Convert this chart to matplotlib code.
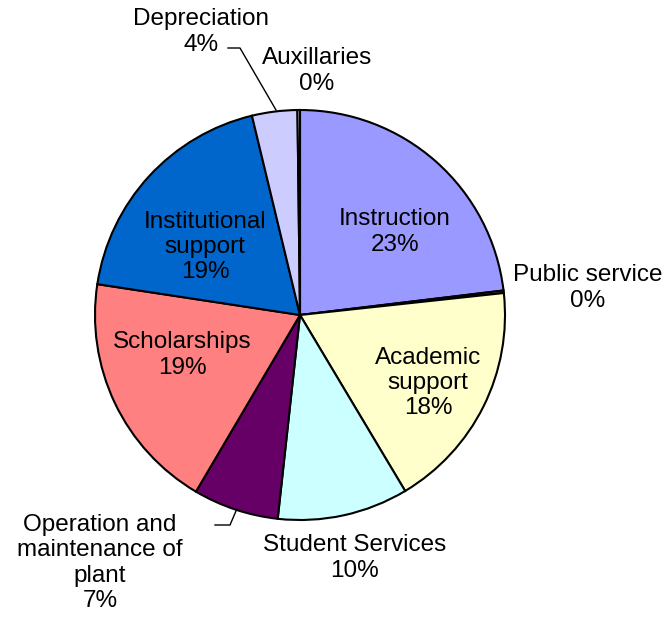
import matplotlib.pyplot as plt

# expense categories, clockwise from 12 o'clock
categories = ["Instruction", "Public service", "Academic\nsupport", "Student Services",
              "Operation and\nmaintenance of\nplant", "Scholarships",
              "Institutional\nsupport", "Depreciation", "Auxillaries"]
shares = [23.3, 0.2, 18.3, 10.4, 6.8, 19.1, 19.0, 3.6, 0.2]
colors = ["#9999FF", "#993366", "#FFFFCC", "#CCFFFF", "#660066",
          "#FF8080", "#0066CC", "#CCCCFF", "#FFFFFF"]

plt.rcParams['font.family'] = ['Liberation Sans', 'DejaVu Sans']

W, H = 670, 622
fig = plt.figure(figsize=(W / 100, H / 100), dpi=100)
ax = fig.add_axes([0, 0, 1, 1])

def py(y):
    # pixel row (from top) -> data y (from bottom)
    return H - y

cx, cy, r = 300, 315, 205
ax.pie(shares, colors=colors, startangle=90, counterclock=False,
       center=(cx, py(cy)), radius=r,
       wedgeprops=dict(edgecolor='black', linewidth=1.5))

ax.set_xlim(0, W)
ax.set_ylim(0, H)
ax.set_aspect('equal')
ax.axis('off')

# label anchor points (x, y in pixels from top-left)
label_pos = [(395, 232), (588, 288), (428, 383), (355, 558),
             (100, 563), (182, 355), (205, 247), (201, 32), (317, 71)]

for name, v, (x, y) in zip(categories, shares, label_pos):
    ax.text(x, py(y), f"{name}\n{v:.0f}%", ha='center', va='center',
            fontsize=17.5, linespacing=1.2, color='black')

# leader lines for the thin slices
ax.plot([228, 240, 276], [py(48), py(48), py(110)], color='black', lw=1)
ax.plot([215, 230, 236], [py(525), py(525), py(511)], color='black', lw=1)

fig.savefig("out.png", dpi=100)
